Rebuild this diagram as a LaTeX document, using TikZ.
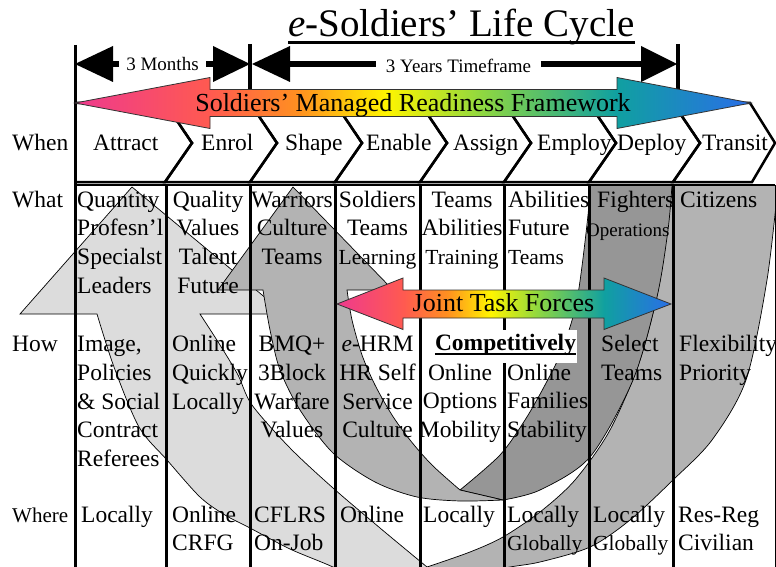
\documentclass[tikz,border=0pt]{standalone}
\usepackage{fontspec}
\setmainfont{Liberation Serif}
\usetikzlibrary{calc}

\definecolor{rbPink}{HTML}{EE3A8E}
\definecolor{rbRed}{HTML}{FF5A50}
\definecolor{rbOrange}{HTML}{FF9020}
\definecolor{rbYellow}{HTML}{FFF500}
\definecolor{rbLime}{HTML}{90D840}
\definecolor{rbTeal}{HTML}{10A0A0}
\definecolor{rbBlue}{HTML}{2A6EE8}
\definecolor{gLight}{HTML}{DCDCDC}
\definecolor{gMid}{HTML}{B3B3B3}
\definecolor{gDark}{HTML}{969696}

\pgfdeclarehorizontalshading{rainbow}{100bp}{color(0bp)=(rbPink); color(25bp)=(rbPink); color(35bp)=(rbRed); color(41.5bp)=(rbOrange); color(48bp)=(rbYellow); color(55bp)=(rbLime); color(65bp)=(rbTeal); color(75bp)=(rbBlue); color(100bp)=(rbBlue)}

\newcommand\hs{\rule{0pt}{17pt}}
\newcommand\smallcell{\fontsize{21.5}{28.6}\selectfont}

\begin{document}
\begin{tikzpicture}[x=1pt,y=-1pt,
  txt/.style={font=\fontsize{23.5}{28.6}\selectfont, inner sep=0pt},
  lab/.style={txt, anchor=base west},
  cellc/.style={txt, anchor=north, align=center},
  celll/.style={txt, anchor=north west, align=left},
  gridline/.style={line width=3pt},
  chev/.style={line width=2.5pt, line join=miter},
  gshape/.style={draw=black, line width=0.7pt},
  rb/.style={shading=rainbow, draw=black!80, line width=0.8pt},
  tickline/.style={line width=3.2pt},
  dimshaft/.style={line width=5.5pt},
  dimlab/.style={font=\fontsize{19}{22}\selectfont, inner ysep=0pt}]
\useasboundingbox (0,0) rectangle (776,567);

% ---- curved ribbons behind the table ----
\begin{scope}
\clip (0,185) rectangle (776,567);
% outer ribbon, rear part rising on the right
\filldraw[gshape, fill=gMid]
  plot[smooth] coordinates {(778,185) (767,280) (746,380) (712,440) (673,480) (630,520) (590,547) (540,562) (505,568) (460,580)}
  -- (427,567)
  -- plot[smooth] coordinates {(427,567) (470,552) (503,537) (540,512) (575,480) (610,430) (640,360) (660,280) (672,185)}
  -- cycle;
% outer ribbon, front part with head
\filldraw[gshape, fill=gLight] (132,187) -- (20,314)
  -- plot[smooth] coordinates {(97,314) (114,367) (139,427) (167,460) (200,497) (225,515) (250,528) (290,549) (333,567) (380,590)}
  -- (450,590) -- (427,567)
  -- plot[smooth] coordinates {(427,567) (380,528) (333,488) (290,448) (252,405) (238,375) (220,345) (200,314)}
  -- (285,314) -- cycle;
% inner ribbon, rear part
\filldraw[gshape, fill=gDark]
  plot[smooth] coordinates {(503,500) (540,490) (590,457) (633,380) (657,297) (668,230) (672,185)}
  -- (589,185)
  -- plot[smooth] coordinates {(589,185) (588,215) (577,300) (562,350) (545,385) (525,420) (500,455) (460,490)}
  -- cycle;
% inner ribbon, front part with head
\filldraw[gshape, fill=gMid] (293,187) -- (393,290)
  -- plot[smooth] coordinates {(347,290) (352,320) (362,355) (375,385) (392,415) (410,440) (432,465) (460,490)}
  -- (503,500)
  -- plot[smooth] coordinates {(503,500) (460,501) (417,497) (375,482) (333,453) (300,410) (280,370) (270,330) (263,290)}
  -- (218,290) -- cycle;
\end{scope}

% ---- table ----
\draw[line width=2pt] (75,185) -- (775,185);
\foreach \cx in {166,250,335,420,504,589,673}
  \draw[gridline] (\cx,185) -- (\cx,567);
\draw[line width=1pt] (775,185) -- (775,567);
\draw[gridline] (75,45) -- (75,567);

% ---- chevrons ----
\draw[chev] (75,103) -- (165,103) -- (192,143) -- (165,182) -- (75,182);
\foreach \a/\b in {165/250,250/335,335/420,420/504,504/589,589/673}
  \draw[chev] (\a,103) -- (\b,103) -- (\b+27,143) -- (\b,182) -- (\a,182) -- (\a+27,143) -- cycle;
\draw[chev] (673,103) -- (750,103) -- (775,143) -- (752,182) -- (673,182) -- (700,143) -- cycle;

% ---- title ----
\node[anchor=base west, inner sep=0pt, font=\fontsize{39}{44}\selectfont] (title) at (288,37) {{\itshape e}-Soldiers’ Life Cycle};
\draw[line width=2.6pt] ($(title.base west)+(0,5.8)$) -- ($(title.base east)+(0,5.8)$);

% ---- time spans ----
\draw[tickline] (250,44) -- (250,90);
\draw[tickline] (678,44) -- (678,90);
\coordinate (mL) at (113,64);
\coordinate (mR) at (213,64);
\coordinate (yL) at (290,64);
\coordinate (yR) at (641,64);
\fill (75,64) -- (mL |- 0,46) -- (mL |- 0,82) -- cycle;
\fill (250,64) -- (mR |- 0,46) -- (mR |- 0,82) -- cycle;
\fill (252,64) -- (yL |- 0,46) -- (yL |- 0,82) -- cycle;
\fill (677,64) -- (yR |- 0,46) -- (yR |- 0,82) -- cycle;
\node[dimlab, inner xsep=7.5pt] (mon) at (162.5,64.5) {3 Months};
\node[dimlab, inner xsep=9.5pt] (yrs) at (458.5,66) {3 Years Timeframe};
\draw[dimshaft] (mL) -- (mL -| mon.west);
\draw[dimshaft] (mR -| mon.east) -- (mR);
\draw[dimshaft] (yL) -- (yL -| yrs.west);
\draw[dimshaft] (yR -| yrs.east) -- (yR);

% ---- framework arrow ----
\shade[rb] (75,103) -- (210,77.5) -- (210,89.5) -- (617,89.5) -- (617,77.5) -- (751,103)
  -- (617,128.5) -- (617,116.5) -- (210,116.5) -- (210,128.5) -- cycle;
\node[anchor=base, inner sep=0pt, font=\fontsize{26}{30}\selectfont] (smrf) at (413,111.5) {Soldiers’ Managed Readiness Framework};

% ---- row labels ----
\node[lab] (lWhen) at (12,150) {When};
\node[lab] (lWhat) at (12,207) {What};
\node[lab] (lHow) at (12,351.7) {How};
\node[lab, font=\fontsize{21}{26}\selectfont] (lWhere) at (12,522) {Where};

% ---- When ----
\node[lab] (c1) at (93,150) {Attract};
\node[lab] (c2) at (201,150) {Enrol};
\node[lab] (c3) at (285,150) {Shape};
\node[lab] (c4) at (366,150) {Enable};
\node[lab] (c5) at (453,150) {Assign};
\node[lab] (c6) at (537,150) {Employ};
\node[lab] (c7) at (617,150) {Deploy};
\node[lab] (c8) at (702,150) {Transit};

% ---- What ----
\node[celll] (w1) at (77,190) {\hs Quantity\\Profesn’l\\Specialst\\Leaders};
\node[cellc] (w2) at (208,190) {\hs Quality\\Values\\Talent\\Future};
\node[cellc] (w3) at (292,190) {\hs Warriors\\Culture\\Teams};
\node[cellc] (w4) at (377.5,190) {\hs Soldiers\\Teams\\{\smallcell Learning}};
\node[cellc] (w5) at (462,190) {\hs Teams\\Abilities\\{\smallcell Training}};
\node[celll] (w6) at (508,190) {\hs Abilities\\Future\\{\smallcell Teams}};
\node[lab] (w7) at (597,207) {Fighters};
\node[lab, font=\fontsize{19}{22}\selectfont] (w7b) at (586,236) {Operations};
\node[lab] (w8) at (680,207) {Citizens};

% ---- joint task forces ----
\shade[rb] (337,304) -- (403,278) -- (403,290) -- (604,290) -- (604,278) -- (671,304)
  -- (604,329.5) -- (604,318) -- (403,318) -- (403,329.5) -- cycle;
\node[anchor=base, inner sep=0pt, font=\fontsize{26}{30}\selectfont] (jtf) at (503.5,311.7) {Joint Task Forces};

% ---- How ----
\node[celll] (h1) at (77,334.7) {\hs Image,\\Policies\\\& Social\\Contract\\Referees};
\node[celll] (h2) at (172,334.7) {\hs Online\\Quickly\\Locally};
\node[cellc] (h3) at (292,334.7) {\hs BMQ+\\3Block\\Warfare\\Values};
\node[cellc] (h4) at (377.5,334.7) {\hs {\itshape e}-HRM\\HR Self\\Service\\Culture};
\node[anchor=base, fill=white, inner xsep=1.5pt, inner ysep=0pt, text height=20pt, text depth=13pt,
  font=\fontsize{23.5}{28.6}\selectfont\bfseries] (comp) at (505.5,350) {Competitively};
\draw[line width=2pt] ($(comp.base west)+(1.5,3.6)$) -- ($(comp.base east)+(-1.5,3.6)$);
\node[cellc] (h5) at (460,363) {\hs Online\\Options\\Mobility};
\node[celll] (h6) at (507,363) {\hs Online\\Families\\Stability};
\node[celll] (h7) at (601,334.7) {\hs Select\\Teams};
\node[celll] (h8) at (679,334.7) {\hs Flexibility\\Priority};

% ---- Where ----
\node[lab] (r1) at (81,522) {Locally};
\node[celll] (r2) at (172,505) {\hs Online\\CRFG};
\node[celll] (r3) at (254,505) {\hs CFLRS\\On-Job};
\node[lab] (r4) at (340,522) {Online};
\node[lab] (r5) at (423,522) {Locally};
\node[celll] (r6) at (507,505) {\hs Locally\\{\smallcell Globally}};
\node[celll] (r7) at (593,505) {\hs Locally\\{\smallcell Globally}};
\node[celll] (r8) at (678,505) {\hs Res-Reg\\Civilian};
\end{tikzpicture}
\end{document}
